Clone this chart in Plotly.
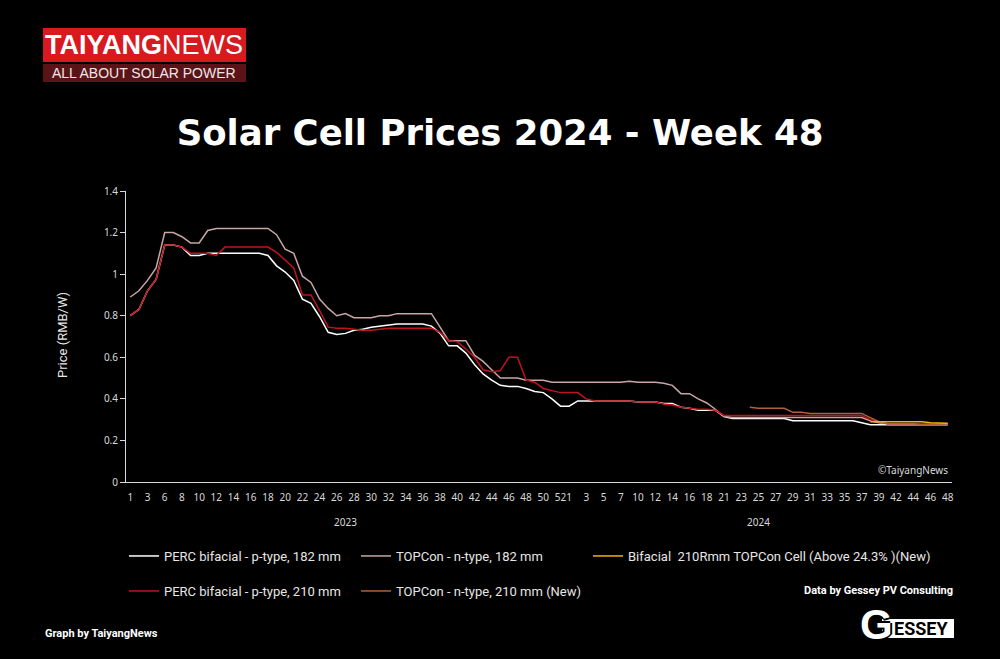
import plotly.graph_objects as go

# semaines affichées (certaines semaines de vacances manquent)
weeks_2023 = [1, 2, 3, 5, 6, 7, 8, 9, 10, 11, 12, 13, 14, 15, 16, 17, 18, 19, 20, 21,
              22, 23, 24, 25, 26, 27, 28, 29, 30, 31, 32, 33, 34, 35, 36, 37, 38, 39, 40, 41,
              42, 43, 44, 45, 46, 47, 48, 49, 50, 51, 52]
weeks_2024 = [1, 2, 3, 4, 5, 6, 7, 8, 10, 11, 12, 13, 14, 15, 16, 17, 18, 20, 21, 22,
              23, 24, 25, 26, 27, 28, 29, 30, 31, 32, 33, 34, 35, 36, 37, 38, 39, 41, 42, 43,
              44, 45, 46, 47, 48]

# prix en RMB/W
perc_182 = [0.80, 0.83, 0.92, 0.975, 1.14, 1.14, 1.13, 1.09, 1.09, 1.10, 1.10, 1.10, 1.10, 1.10, 1.10, 1.10, 1.09,
            1.04, 1.01, 0.97, 0.88, 0.86, 0.795, 0.72, 0.71, 0.715, 0.73, 0.735, 0.745, 0.75, 0.755, 0.76, 0.76,
            0.76, 0.76, 0.75, 0.715, 0.655, 0.655, 0.62, 0.565, 0.52, 0.49, 0.465, 0.46, 0.46, 0.45, 0.435, 0.43,
            0.40, 0.365,
            0.365, 0.39, 0.39, 0.39, 0.39, 0.39, 0.39, 0.39, 0.385, 0.385, 0.385, 0.378, 0.378, 0.36, 0.355, 0.345,
            0.345, 0.345, 0.315, 0.305, 0.305, 0.305, 0.305, 0.305, 0.305, 0.305, 0.295, 0.295, 0.295, 0.295, 0.295,
            0.295, 0.295, 0.295, 0.285, 0.275, 0.275, 0.275, 0.275, 0.275, 0.275, 0.275, 0.275, 0.275, 0.275]
topcon_182 = [0.89, 0.92, 0.97, 1.03, 1.20, 1.20, 1.18, 1.15, 1.15, 1.21, 1.22, 1.22, 1.22, 1.22, 1.22, 1.22, 1.22,
              1.19, 1.12, 1.10, 0.99, 0.96, 0.88, 0.835, 0.80, 0.81, 0.79, 0.79, 0.79, 0.80, 0.80, 0.81, 0.81,
              0.81, 0.81, 0.81, 0.745, 0.68, 0.68, 0.68, 0.61, 0.58, 0.54, 0.50, 0.50, 0.50, 0.49, 0.49, 0.49,
              0.48, 0.48,
              0.48, 0.48, 0.48, 0.48, 0.48, 0.48, 0.48, 0.485, 0.48, 0.48, 0.48, 0.475, 0.465, 0.425, 0.425, 0.40,
              0.38, 0.35, 0.315, 0.31, 0.31, 0.31, 0.31, 0.31, 0.31, 0.31, 0.31, 0.31, 0.31, 0.31, 0.31,
              0.31, 0.31, 0.31, 0.31, 0.295, 0.285, 0.28, 0.28, 0.28, 0.28, 0.28, 0.28, 0.28, 0.28]
perc_210 = [0.80, 0.83, 0.92, 0.975, 1.14, 1.14, 1.13, 1.10, 1.10, 1.10, 1.09, 1.13, 1.13, 1.13, 1.13, 1.13, 1.13,
            1.105, 1.065, 1.03, 0.90, 0.90, 0.825, 0.745, 0.74, 0.74, 0.735, 0.73, 0.73, 0.735, 0.74, 0.74, 0.74,
            0.74, 0.74, 0.74, 0.72, 0.68, 0.675, 0.64, 0.60, 0.54, 0.53, 0.535, 0.60, 0.60, 0.49, 0.48, 0.45,
            0.44, 0.43,
            0.43, 0.43, 0.40, 0.39, 0.39, 0.39, 0.39, 0.39, 0.385, 0.385, 0.385, 0.375, 0.37, 0.36, 0.355, 0.35,
            0.35, 0.345, 0.32, 0.32, 0.32, 0.32, 0.32, 0.32, 0.32, 0.32, 0.32, 0.32, 0.32, 0.32, 0.32,
            0.32, 0.32, 0.32, 0.32, 0.30, 0.29, 0.28, 0.28, 0.28, 0.28, 0.28, 0.28, 0.28, 0.28]
topcon_210 = [None] * 72 + [0.36, 0.355, 0.355, 0.355, 0.355, 0.335, 0.335, 0.33, 0.33, 0.33, 0.33, 0.33, 0.33,
                            0.33, 0.31, 0.29, 0.28, 0.28, 0.28, 0.28, 0.275, 0.275, 0.275, 0.28]
bifacial_210r = [None] * 86 + [0.29, 0.29, 0.29, 0.29, 0.29, 0.29, 0.29, 0.285, 0.285, 0.283]

categories = [f"2023-{w}" for w in weeks_2023] + [f"2024-{w}" for w in weeks_2024]
tick_vals = categories[:len(weeks_2023)][::2] + categories[len(weeks_2023):][::2]
tick_text = [str(w) for w in weeks_2023[::2]] + [str(w) for w in weeks_2024[::2]]

# zone du graphe en pixels
L, R, T, B = 126, 952, 191, 482
def px(x):
    return (x - L) / (R - L)
def py(y):
    return (B - y) / (B - T)

FONT = "Roboto, sans-serif"
GRIS = "#d9d9d9"

# ordre de tracé: la courbe jaune passe au-dessus
series = [
    ("PERC bifacial - p-type, 182 mm", perc_182, "#ffffff", "legend"),
    ("TOPCon - n-type, 182 mm", topcon_182, "#c8a6a6", "legend"),
    ("PERC bifacial - p-type, 210 mm", perc_210, "#c0141c", "legend2"),
    ("TOPCon - n-type, 210 mm (New)", topcon_210, "#b0603a", "legend2"),
    ("Bifacial  210Rmm TOPCon Cell (Above 24.3% )(New)", bifacial_210r, "#f2b400", "legend3"),
]

fig = go.Figure()
for nom, vals, couleur, leg in series:
    fig.add_trace(go.Scatter(x=categories, y=vals, mode="lines", name=nom,
                             line=dict(color=couleur, width=1.5), legend=leg))

leg_style = dict(orientation="h", xanchor="left", yanchor="middle",
                 entrywidth=187, bgcolor="rgba(0,0,0,0)",
                 font=dict(family=FONT, size=13, color="#e6e6e6"))

fig.update_layout(
    width=1000, height=659,
    paper_bgcolor="#000000", plot_bgcolor="#000000",
    margin=dict(l=L, r=1000 - R, t=T, b=659 - B, autoexpand=False),
    title=dict(text="Solar Cell Prices 2024 - Week 48", x=0.5, xanchor="center",
               y=1 - 133 / 659, yanchor="middle",
               font=dict(family="DejaVu Sans, sans-serif", size=35.5, color="#ffffff", weight=700)),
    legend=dict(leg_style, x=px(124), y=py(556)),
    legend2=dict(leg_style, x=px(124), y=py(591)),
    legend3=dict(leg_style, x=px(588), y=py(556), entrywidth=320),
    xaxis=dict(type="category", range=[-0.5, len(categories) - 0.5],
               tickvals=tick_vals, ticktext=tick_text, tickangle=0,
               showline=True, linecolor=GRIS, linewidth=1, showgrid=False, zeroline=False,
               ticks="", ticklabelstandoff=6,
               tickfont=dict(family="Noto Sans, sans-serif", size=10, color=GRIS)),
    yaxis=dict(range=[0, 1.4], dtick=0.2, showline=True, linecolor=GRIS, linewidth=1,
               showgrid=False, zeroline=False, ticks="outside", ticklen=5, tickcolor=GRIS,
               tickfont=dict(family="Noto Sans, sans-serif", size=10, color=GRIS)),
)

annots = [
    dict(x=25, xref="x", y=py(522), text="2023", font=dict(family="Noto Sans, sans-serif", size=10, color=GRIS)),
    dict(x=73, xref="x", y=py(522), text="2024", font=dict(family="Noto Sans, sans-serif", size=10, color=GRIS)),
    dict(x=px(62), y=py(335), text="Price (RMB/W)", textangle=-90,
         font=dict(family=FONT, size=13, color="#e6e6e6")),
    dict(x=px(950), y=py(470), text="©TaiyangNews", xanchor="right",
         font=dict(family="Noto Sans, sans-serif", size=10, color=GRIS)),
    dict(x=px(144), y=py(45), text="<b>TAIYANG</b>NEWS",
         font=dict(family="Liberation Sans, Arial, sans-serif", size=27, color="#ffffff")),
    dict(x=px(144), y=py(73), text="ALL ABOUT SOLAR POWER",
         font=dict(family="Liberation Sans, Arial, sans-serif", size=14, color="#f0e6e6")),
    dict(x=px(43), y=py(633), text="<b>Graph by TaiyangNews</b>", xanchor="left",
         font=dict(family=FONT, size=11, color="#ffffff")),
    dict(x=px(955), y=py(590), text="<b>Data by Gessey PV Consulting</b>", xanchor="right",
         font=dict(family=FONT, size=11, color="#ffffff")),
    dict(x=px(921), y=py(628), text="<b>ESSEY</b>",
         font=dict(family=FONT, size=18, color="#000000")),
    dict(x=px(876), y=py(624), text="<b>G</b>",
         font=dict(family="Liberation Sans, Arial, sans-serif", size=42, color="#ffffff",
                   shadow="2px 0 0 #000, -2px 0 0 #000, 0 2px 0 #000, 0 -2px 0 #000")),
]
for a in annots:
    a.setdefault("xref", "paper")
    a.setdefault("yref", "paper")
    a.setdefault("xanchor", "center")
    a.setdefault("yanchor", "middle")
    a.setdefault("showarrow", False)
    fig.add_annotation(**a)

fig.add_shape(type="rect", xref="paper", yref="paper", x0=px(43), x1=px(246), y0=py(28), y1=py(62),
              fillcolor="#d71920", line_width=0, layer="below")
fig.add_shape(type="rect", xref="paper", yref="paper", x0=px(43), x1=px(246), y0=py(64), y1=py(82),
              fillcolor="#5a1418", line_width=0, layer="below")
fig.add_shape(type="rect", xref="paper", yref="paper", x0=px(882), x1=px(954), y0=py(619), y1=py(638),
              fillcolor="#ffffff", line_width=0, layer="below")

# la page a une marge de 8px par défaut
fig.write_html("out.html", config={"displayModeBar": False},
               post_script="document.body.style.margin='0';")
